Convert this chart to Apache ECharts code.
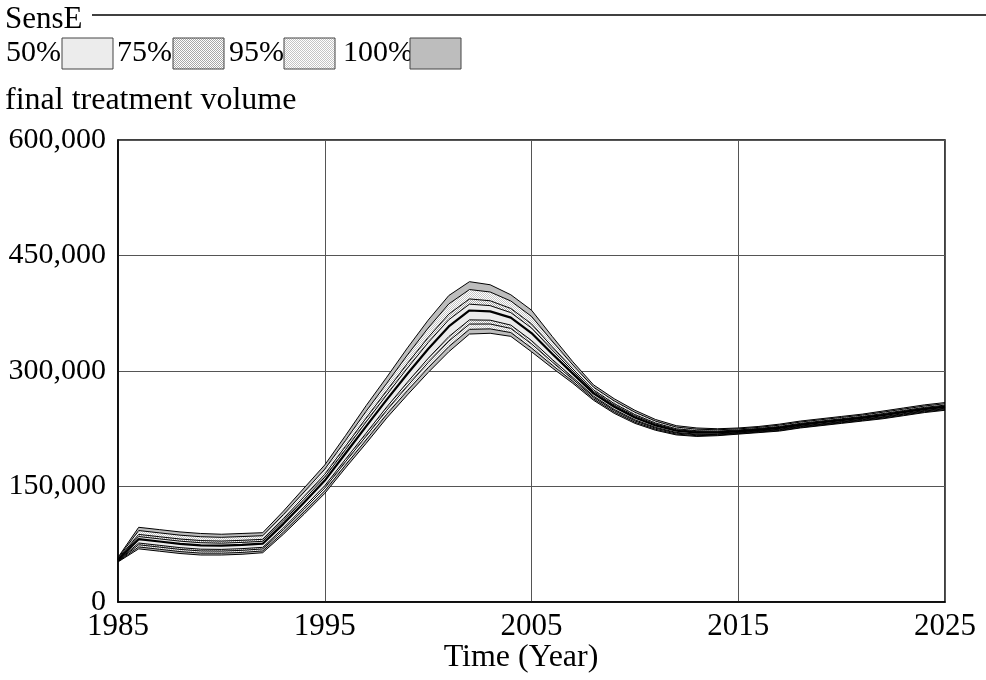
<!DOCTYPE html>
<html><head><meta charset="utf-8">
<script src="https://cdn.jsdelivr.net/npm/echarts@6/dist/echarts.min.js"></script>
<style>html,body{margin:0;padding:0;background:#fff}#c{width:986px;height:680px}</style>
</head><body><div id="c"></div>
<script>
const years = [1985,1986,1987,1988,1989,1990,1991,1992,1993,1994,1995,1996,1997,1998,1999,2000,2001,2002,2003,2004,2005,2006,2007,2008,2009,2010,2011,2012,2013,2014,2015,2016,2017,2018,2019,2020,2021,2022,2023,2024,2025];
// values in thousands
const pMin = [52,69,66,63,61,61,62,64,88,114, 141,174,206,239,269,298,325,348,349,345, 325,304,284,262,245,232,223,217,215,216, 218,220,222,226,229,232,235,238,242,246, 249];
const p025 = [52.5,71.5,68.5,65.5,63.5,63.4,64.4,66.3,90.7,117.1, 144.3,177.8,210.4,243.8,274.5,304.1,331.6,354.1,354.7,349.9, 329.9,307.7,286.5,263.8,246.7,233.5,224.3,218.1,216,216.8, 218.7,220.7,222.8,226.8,229.8,232.8,235.8,238.9,242.9,246.9, 249.9];
const p125 = [53,74.3,71.3,68.3,66.3,66.1,67.1,68.9,93.7,120.5, 148,182,215.3,249.1,280.6,310.9,338.9,360.9,361,355.3, 335.3,311.8,289.3,265.8,248.6,235.2,225.7,219.3,217.1,217.7, 219.5,221.5,223.7,227.7,230.7,233.7,236.7,239.9,243.9,247.9, 250.9];
const p25  = [53.5,76.6,73.6,70.6,68.6,68.3,69.3,71,96.1,123.2, 151,185.3,219.2,253.3,285.5,316.4,344.7,366.4,366,359.6, 339.6,315.1,291.6,267.4,250.1,236.6,226.8,220.2,218,218.4, 220.2,222.2,224.4,228.4,231.4,234.4,237.4,240.7,244.7,248.7, 251.7];
const pMean= [54.5,81.6,78.6,75.6,73.6,73.2,74.2,75.7,101.5,129.3, 157.7,192.9,228.1,262.9,296.5,328.6,357.9,378.6,377.4,369.3, 349.3,322.5,296.6,271,253.6,239.7,229.3,222.4,220,220.1, 221.6,223.6,226.1,230.1,233.1,236.1,239.1,242.5,246.5,250.5, 253.5];
const p75  = [55.5,85,82,79,77,76.4,77.4,78.8,105.1,133.4, 162.1,197.9,233.9,269.2,303.8,336.8,366.6,386.8,384.9,375.8, 355.8,327.4,300,273.4,255.8,241.7,231,223.8,221.3,221.1, 222.6,224.6,227.1,231.1,234.1,237.1,240.1,243.7,247.7,251.7, 254.7];
const p875 = [56,87.8,84.8,81.8,79.8,79.1,80.1,81.4,108.1,136.8, 165.8,202.1,238.8,274.5,309.9,343.6,373.9,393.6,391.2,381.2, 361.2,331.5,302.8,275.4,257.7,243.4,232.4,225,222.4,222, 223.4,225.4,228,232,235,238,241,244.7,248.7,252.7, 255.7];
const p975 = [57,92.8,89.8,86.8,84.8,84,85,86.1,113.5,142.9, 172.5,209.7,247.7,284.1,320.9,355.8,387.1,405.8,402.6,390.9, 370.9,338.9,307.8,279,261.2,246.5,234.9,227.2,224.4,223.7, 224.8,226.8,229.7,233.7,236.7,239.7,242.7,246.5,250.5,254.5, 257.5];
const pMax = [58,97,94,91,89,88,89,90,118,148, 178,216,255,292,330,366,398,416,412,399, 379,345,312,282,264,249,237,229,226,225, 226,228,231,235,238,241,244,248,252,256, 259];
const bandLabels = ['50%','75%','95%','100%'];

function pattern(dark){
  const c=document.createElement('canvas');c.width=2;c.height=2;
  const g=c.getContext('2d');g.fillStyle='#fff';g.fillRect(0,0,2,2);
  g.fillStyle=dark;g.fillRect(0,0,1,1);g.fillRect(1,1,1,1);return c;
}
const col50='#ececec', col100='#bdbdbd';
const pat75={image:pattern('#a8a8a8'),repeat:'repeat'}, pat95={image:pattern('#c4c4c4'),repeat:'repeat'};
// band fills: min->p025 (100%), p025->p125 (95%), p125->p25 (75%), p25->mean (50%), mean->p75 (50%), p75->p875 (75%), p875->p975 (95%), p975->max (100%)
const fills=[null,col100,pat95,pat75,col50,col50,pat75,pat95,col100];
const bounds=[pMin,p025,p125,p25,pMean,p75,p875,p975,pMax];
const series=bounds.map((arr,i)=>{
  const data=arr.map((v,j)=> i===0? v : +(v-bounds[i-1][j]).toFixed(3));
  const s={type:'line',stack:'s',data:data,symbol:'none',silent:true,
    lineStyle:{color:'#000',width:i===4?2.2:1},z:3};
  if(i>0) s.areaStyle={color:fills[i],opacity:1};
  return s;
});
const FONT="'Liberation Serif', 'Times New Roman', serif";
const chart=echarts.init(document.getElementById('c'));
const tx=[6,117,229,343];
const swx=[62,173,284,410];
const swFill=[col50,pat75,pat95,col100];
const graphic=[
  {type:'text',style:{text:'SensE',x:5,y:20,font:'31px '+FONT,fill:'#000',textVerticalAlign:'middle'}},
  {type:'line',shape:{x1:92,y1:15,x2:986,y2:15},style:{stroke:'#000',lineWidth:1.5}},
  {type:'text',style:{text:'final treatment volume',x:5,y:101,font:'32px '+FONT,fill:'#000',textVerticalAlign:'middle'}},
  {type:'text',style:{text:'Time (Year)',x:521,y:658,font:'32px '+FONT,fill:'#000',textAlign:'center',textVerticalAlign:'middle'}}
];
bandLabels.forEach((t,i)=>{
  graphic.push({type:'text',style:{text:t,x:tx[i],y:53,font:'30px '+FONT,fill:'#000',textVerticalAlign:'middle'}});
  graphic.push({type:'rect',shape:{x:swx[i],y:38,width:51,height:31},style:{fill:swFill[i],stroke:'#444',lineWidth:1}});
});
chart.setOption({
  animation:false,
  backgroundColor:'#fff',
  grid:{left:118,right:41,top:140,bottom:78,containLabel:false,outerBoundsMode:'none',show:true,borderColor:'#000',borderWidth:1.5},
  xAxis:{type:'category',data:years,boundaryGap:false,
    axisLine:{lineStyle:{color:'#000',width:1.5}},axisTick:{show:false},
    axisLabel:{interval:9,color:'#000',fontFamily:FONT,fontSize:31,margin:9,showMaxLabel:true},
    splitLine:{show:true,interval:9,lineStyle:{color:'#555',width:1}}},
  yAxis:{type:'value',min:0,max:600,interval:150,
    axisLine:{show:true,lineStyle:{color:'#000',width:1.5}},axisTick:{show:false},
    axisLabel:{color:'#000',fontFamily:FONT,fontSize:30,margin:12,
      formatter:v=>(v*1000).toLocaleString('en-US')},
    splitLine:{show:true,lineStyle:{color:'#555',width:1}}},
  graphic:graphic,
  series:series
});
</script></body></html>
